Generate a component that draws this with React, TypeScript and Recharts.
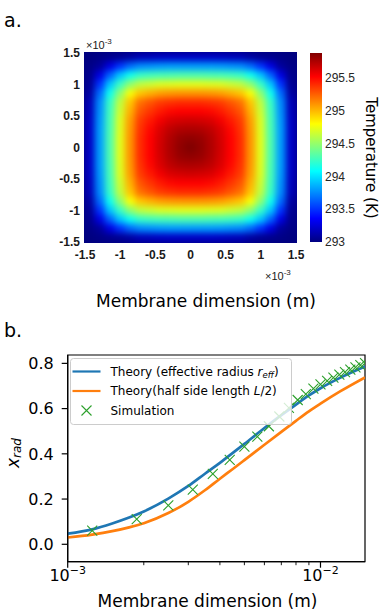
import React from "react";
import {
  ScatterChart,
  ComposedChart,
  Scatter,
  Line,
  XAxis,
  YAxis,
  ReferenceArea,
  Legend,
} from "recharts";

// ---------- panel a: temperature field (x, y in units of 1e-3 m) ----------
const HEAT_X = [
  -1.429, -1.286, -1.143, -1.0, -0.857, -0.714, -0.571, -0.429, -0.286, -0.143, 0,
  0.143, 0.286, 0.429, 0.571, 0.714, 0.857, 1.0, 1.143, 1.286, 1.429,
];
const HEAT_Y = [
  1.429, 1.286, 1.143, 1.0, 0.857, 0.714, 0.571, 0.429, 0.286, 0.143, 0,
  -0.143, -0.286, -0.429, -0.571, -0.714, -0.857, -1.0, -1.143, -1.286, -1.429,
];
// rows top to bottom, columns left to right (K)
const TEMP_K = [
  [293.00,293.02,293.04,293.06,293.10,293.16,293.17,293.19,293.20,293.20,293.20,293.20,293.20,293.19,293.17,293.16,293.10,293.06,293.04,293.02,293.00],
  [293.02,293.08,293.28,293.50,293.66,293.75,293.77,293.79,293.80,293.80,293.80,293.80,293.80,293.79,293.77,293.75,293.66,293.50,293.28,293.08,293.02],
  [293.04,293.28,293.64,293.92,294.12,294.23,294.26,294.28,294.29,294.30,294.30,294.30,294.29,294.28,294.26,294.23,294.12,293.92,293.64,293.28,293.04],
  [293.06,293.50,293.92,294.24,294.48,294.62,294.66,294.70,294.71,294.72,294.72,294.72,294.71,294.70,294.66,294.62,294.48,294.24,293.92,293.50,293.06],
  [293.10,293.66,294.12,294.48,294.78,294.96,295.02,295.07,295.09,295.10,295.10,295.10,295.09,295.07,295.02,294.96,294.78,294.48,294.12,293.66,293.10],
  [293.16,293.75,294.23,294.62,294.96,295.20,295.28,295.35,295.38,295.40,295.40,295.40,295.38,295.35,295.28,295.20,294.96,294.62,294.23,293.75,293.16],
  [293.17,293.77,294.26,294.66,295.02,295.28,295.37,295.45,295.50,295.52,295.52,295.52,295.50,295.45,295.37,295.28,295.02,294.66,294.26,293.77,293.17],
  [293.19,293.79,294.28,294.70,295.07,295.35,295.45,295.55,295.62,295.64,295.65,295.64,295.62,295.55,295.45,295.35,295.07,294.70,294.28,293.79,293.19],
  [293.20,293.80,294.29,294.71,295.09,295.38,295.50,295.62,295.70,295.74,295.75,295.74,295.70,295.62,295.50,295.38,295.09,294.71,294.29,293.80,293.20],
  [293.20,293.80,294.30,294.72,295.10,295.40,295.52,295.64,295.74,295.81,295.83,295.81,295.74,295.64,295.52,295.40,295.10,294.72,294.30,293.80,293.20],
  [293.20,293.80,294.30,294.72,295.10,295.40,295.52,295.65,295.75,295.83,295.88,295.83,295.75,295.65,295.52,295.40,295.10,294.72,294.30,293.80,293.20],
  [293.20,293.80,294.30,294.72,295.10,295.40,295.52,295.64,295.74,295.81,295.83,295.81,295.74,295.64,295.52,295.40,295.10,294.72,294.30,293.80,293.20],
  [293.20,293.80,294.29,294.71,295.09,295.38,295.50,295.62,295.70,295.74,295.75,295.74,295.70,295.62,295.50,295.38,295.09,294.71,294.29,293.80,293.20],
  [293.19,293.79,294.28,294.70,295.07,295.35,295.45,295.55,295.62,295.64,295.65,295.64,295.62,295.55,295.45,295.35,295.07,294.70,294.28,293.79,293.19],
  [293.17,293.77,294.26,294.66,295.02,295.28,295.37,295.45,295.50,295.52,295.52,295.52,295.50,295.45,295.37,295.28,295.02,294.66,294.26,293.77,293.17],
  [293.16,293.75,294.23,294.62,294.96,295.20,295.28,295.35,295.38,295.40,295.40,295.40,295.38,295.35,295.28,295.20,294.96,294.62,294.23,293.75,293.16],
  [293.10,293.66,294.12,294.48,294.78,294.96,295.02,295.07,295.09,295.10,295.10,295.10,295.09,295.07,295.02,294.96,294.78,294.48,294.12,293.66,293.10],
  [293.06,293.50,293.92,294.24,294.48,294.62,294.66,294.70,294.71,294.72,294.72,294.72,294.71,294.70,294.66,294.62,294.48,294.24,293.92,293.50,293.06],
  [293.04,293.28,293.64,293.92,294.12,294.23,294.26,294.28,294.29,294.30,294.30,294.30,294.29,294.28,294.26,294.23,294.12,293.92,293.64,293.28,293.04],
  [293.02,293.08,293.28,293.50,293.66,293.75,293.77,293.79,293.80,293.80,293.80,293.80,293.80,293.79,293.77,293.75,293.66,293.50,293.28,293.08,293.02],
  [293.00,293.02,293.04,293.06,293.10,293.16,293.17,293.19,293.20,293.20,293.20,293.20,293.20,293.19,293.17,293.16,293.10,293.06,293.04,293.02,293.00],
];
const HEAT_TICKS = [-1.5, -1, -0.5, 0, 0.5, 1, 1.5];
const CBAR_TICKS = [293, 293.5, 294, 294.5, 295, 295.5];
const T_MIN = 293;
const T_MAX = 295.88;

// ---------- panel b: radiative fraction vs membrane dimension ----------
const THEORY_L = [
  0.001, 0.00125, 0.0015, 0.00175, 0.002, 0.0025, 0.003, 0.0035, 0.004,
  0.0045, 0.005, 0.006, 0.007, 0.008, 0.009, 0.01, 0.012, 0.015,
];
const X_RAD_REFF = [
  0.047, 0.066, 0.092, 0.118, 0.145, 0.202, 0.258, 0.313, 0.36,
  0.404, 0.444, 0.514, 0.571, 0.618, 0.658, 0.69, 0.737, 0.786,
];
const X_RAD_HALF = [
  0.03, 0.043, 0.058, 0.075, 0.093, 0.138, 0.188, 0.24, 0.29,
  0.333, 0.372, 0.44, 0.497, 0.546, 0.588, 0.622, 0.677, 0.738,
];
const SIM_L = [
  0.00125, 0.001875, 0.0025, 0.003125, 0.00375, 0.004375, 0.005, 0.005625,
  0.00625, 0.006875, 0.0075, 0.008125, 0.00875, 0.009375, 0.01, 0.010625,
  0.01125, 0.011875, 0.0125, 0.013125, 0.01375, 0.014375, 0.015,
];
const SIM_X_RAD = [
  0.06, 0.111, 0.172, 0.242, 0.311, 0.373, 0.432, 0.476,
  0.522, 0.565, 0.603, 0.638, 0.664, 0.688, 0.707, 0.723,
  0.737, 0.75, 0.761, 0.772, 0.782, 0.792, 0.801,
];
const LOG_TICKS = [0.001, 0.002, 0.003, 0.004, 0.005, 0.006, 0.007, 0.008, 0.009, 0.01];
const Y_TICKS = [0, 0.2, 0.4, 0.6, 0.8];

const SANS = "DejaVu Sans, sans-serif";
const ARIAL = "Liberation Sans, Arial, sans-serif";

// MATLAB style jet colour map
const clamp = (v: number) => Math.max(0, Math.min(1, v));
function jet(t: number) {
  const v = clamp((t - T_MIN) / (T_MAX - T_MIN));
  const r = clamp(1.5 - Math.abs(4 * v - 3));
  const g = clamp(1.5 - Math.abs(4 * v - 2));
  const b = clamp(1.5 - Math.abs(4 * v - 1));
  return `rgb(${Math.round(r * 255)},${Math.round(g * 255)},${Math.round(b * 255)})`;
}

const heatCells = TEMP_K.flatMap((row, i) =>
  row.map((t, j) => ({ x: HEAT_X[j], y: HEAT_Y[i], t }))
);

const HEAT_W = 211;
const HEAT_H = 189;
const CELL_W = HEAT_W / HEAT_X.length;
const CELL_H = HEAT_H / HEAT_Y.length;

const HeatCell = (props: any) => {
  const { cx, cy, payload } = props;
  return (
    <rect
      x={cx - CELL_W / 2 - 0.3}
      y={cy - CELL_H / 2 - 0.3}
      width={CELL_W + 0.6}
      height={CELL_H + 0.6}
      fill={jet(payload.t)}
    />
  );
};

// two invisible anchor points so the colour bar chart has data
const cbarAnchors = [
  { x: 0, y: T_MIN },
  { x: 1, y: T_MAX },
];

const reffData = THEORY_L.map((x, i) => ({ x, v: X_RAD_REFF[i] }));
const halfData = THEORY_L.map((x, i) => ({ x, v: X_RAD_HALF[i] }));
const simData = SIM_L.map((x, i) => ({ x, v: SIM_X_RAD[i] }));

const XMark = (props: any) => {
  const { cx, cy } = props;
  const s = 5;
  return (
    <path
      d={`M${cx - s},${cy - s}L${cx + s},${cy + s}M${cx - s},${cy + s}L${cx + s},${cy - s}`}
      stroke="#2ca02c"
      strokeWidth={1.1}
      fill="none"
    />
  );
};

const LogTick = (props: any) => {
  const { x, y, payload } = props;
  const lg = Math.log10(payload.value);
  const major = Math.abs(lg - Math.round(lg)) < 1e-6;
  return (
    <g>
      <line
        x1={x}
        x2={x}
        y1={y}
        y2={y + (major ? 6 : 3.5)}
        stroke="#000"
        strokeWidth={major ? 1.2 : 0.9}
      />
      {major && (
        <text x={x} y={y + 19.5} textAnchor="middle" fontSize={16} fontFamily={SANS} fill="#000">
          10
          <tspan fontSize={11} dy={-7}>
            {"\u2212" + Math.abs(Math.round(lg))}
          </tspan>
        </text>
      )}
    </g>
  );
};

const renderLegend = () => (
  <svg width={222} height={67} style={{ display: "block" }}>
    <rect x={0.5} y={0.5} width={221} height={66} rx={3} fill="rgba(255,255,255,0.8)" stroke="#cccccc" />
    <line x1={2.5} x2={30.5} y1={13.5} y2={13.5} stroke="#1f77b4" strokeWidth={2.2} />
    <line x1={2.5} x2={30.5} y1={33} y2={33} stroke="#ff7f0e" strokeWidth={2.2} />
    <XMark cx={16.5} cy={52.5} />
    <g fontFamily={SANS} fontSize={12} fill="#000">
      <text x={40.5} y={13.5} dominantBaseline="central">
        Theory (effective radius <tspan fontStyle="italic">r</tspan>
        <tspan fontStyle="italic" fontSize={8.5} dy={3}>eff</tspan>
        <tspan dy={-3}>)</tspan>
      </text>
      <text x={40.5} y={33} dominantBaseline="central">
        Theory(half side length <tspan fontStyle="italic">L</tspan>/2)
      </text>
      <text x={40.5} y={52.5} dominantBaseline="central">
        Simulation
      </text>
    </g>
  </svg>
);

export default function App() {
  const jetStops = [0, 1 / 8, 3 / 8, 5 / 8, 7 / 8, 1];
  return (
    <div style={{ position: "absolute", left: 0, top: 0, width: 382, height: 615, background: "#fff" }}>
      <style>{`.heatmap .recharts-scatter { filter: url(#heatBlur); }`}</style>
      <svg width={0} height={0} style={{ position: "absolute" }}>
        <defs>
          <linearGradient id="jetGrad" x1="0" y1="1" x2="0" y2="0">
            {jetStops.map((s) => (
              <stop key={s} offset={s} stopColor={jet(T_MIN + s * (T_MAX - T_MIN))} />
            ))}
          </linearGradient>
          <filter id="heatBlur" x="0" y="0" width="1" height="1" colorInterpolationFilters="sRGB">
            <feFlood floodColor="#00007f" result="bg" />
            <feGaussianBlur in="SourceGraphic" stdDeviation="3.3" result="blur" />
            <feMerge>
              <feMergeNode in="bg" />
              <feMergeNode in="blur" />
            </feMerge>
          </filter>
        </defs>
      </svg>

      {/* panel a: heat map */}
      <div style={{ position: "absolute", left: 0, top: 0 }}>
        <ScatterChart
          className="heatmap"
          width={382}
          height={300}
          margin={{ top: 53, right: 86, bottom: 38, left: 45 }}
        >
          <XAxis
            type="number"
            dataKey="x"
            domain={[-1.5, 1.5]}
            ticks={HEAT_TICKS}
            interval={0}
            height={20}
            axisLine={false}
            tickLine={false}
            tickSize={0}
            tickMargin={8}
            tick={{ fontSize: 12, fontWeight: "bold", fontFamily: ARIAL, fill: "#1a1a1a" }}
          />
          <YAxis
            type="number"
            dataKey="y"
            domain={[-1.5, 1.5]}
            ticks={HEAT_TICKS}
            interval={0}
            width={40}
            axisLine={false}
            tickLine={false}
            tickSize={0}
            tickMargin={5}
            tick={{ fontSize: 12, fontWeight: "bold", fontFamily: ARIAL, fill: "#1a1a1a" }}
          />
          <Scatter data={heatCells} shape={<HeatCell />} isAnimationActive={false} />
        </ScatterChart>
      </div>

      {/* panel a: colour bar */}
      <div style={{ position: "absolute", left: 0, top: 0 }}>
        <ScatterChart width={382} height={300} margin={{ top: 53, right: 10, bottom: 58, left: 310 }}>
          <XAxis type="number" dataKey="x" domain={[0, 1]} hide />
          <YAxis
            orientation="right"
            type="number"
            dataKey="y"
            domain={[T_MIN, T_MAX]}
            ticks={CBAR_TICKS}
            interval={0}
            width={50}
            axisLine={false}
            tickLine={false}
            tickSize={0}
            tickMargin={3}
            tick={{ fontSize: 12, fontFamily: ARIAL, fill: "#262626" }}
          />
          <ReferenceArea
            x1={0}
            x2={1}
            y1={T_MIN}
            y2={T_MAX}
            fill="url(#jetGrad)"
            fillOpacity={1}
            stroke="none"
            ifOverflow="visible"
          />
          <Scatter data={cbarAnchors} shape={() => <g />} isAnimationActive={false} />
        </ScatterChart>
      </div>

      {/* panel b */}
      <div style={{ position: "absolute", left: 0, top: 310 }}>
        <ComposedChart width={382} height={305} margin={{ top: 45, right: 17, bottom: 23.3, left: 17.7 }}>
          <XAxis
            type="number"
            dataKey="x"
            scale="log"
            domain={[0.001, 0.015]}
            allowDataOverflow
            ticks={LOG_TICKS}
            interval={0}
            height={30}
            tickLine={false}
            tickSize={0}
            tickMargin={0}
            axisLine={{ stroke: "#000", strokeWidth: 1.2 }}
            tick={<LogTick />}
          />
          <YAxis
            type="number"
            domain={[-0.077, 0.837]}
            allowDataOverflow
            ticks={Y_TICKS}
            interval={0}
            width={50}
            tickSize={6}
            tickMargin={8}
            tickFormatter={(v: number) => v.toFixed(1)}
            tickLine={{ stroke: "#000", strokeWidth: 1.2 }}
            axisLine={{ stroke: "#000", strokeWidth: 1.2 }}
            tick={{ fontSize: 16, fontFamily: SANS, fill: "#000" }}
          />
          <Line
            data={reffData}
            dataKey="v"
            type="monotone"
            stroke="#1f77b4"
            strokeWidth={2.7}
            dot={false}
            isAnimationActive={false}
          />
          <Line
            data={halfData}
            dataKey="v"
            type="monotone"
            stroke="#ff7f0e"
            strokeWidth={2.7}
            dot={false}
            isAnimationActive={false}
          />
          <Scatter data={simData} dataKey="v" shape={<XMark />} isAnimationActive={false} />
          <ReferenceArea
            x1={0.001}
            x2={0.015}
            y1={-0.077}
            y2={0.837}
            fill="none"
            stroke="#000"
            strokeWidth={1.2}
            ifOverflow="visible"
          />
          <Legend
            layout="horizontal"
            verticalAlign="middle"
            align="center"
            content={renderLegend}
            wrapperStyle={{ left: 69.5, top: 47.5, width: 222, height: 67, right: "auto", bottom: "auto" }}
          />
        </ComposedChart>
      </div>

      {/* annotations */}
      <svg
        width={382}
        height={615}
        style={{ position: "absolute", left: 0, top: 0, pointerEvents: "none" }}
      >
        <text x={4} y={26.5} fontSize={19} fontFamily={SANS} fill="#000">a.</text>
        <text x={4} y={337} fontSize={19} fontFamily={SANS} fill="#000">b.</text>
        <text x={86} y={49} fontSize={11} fontFamily={ARIAL} fill="#1a1a1a">
          ×10<tspan fontSize={8} dy={-5}>-3</tspan>
        </text>
        <text x={265} y={280} fontSize={11} fontFamily={ARIAL} fill="#1a1a1a">
          ×10<tspan fontSize={8} dy={-5}>-3</tspan>
        </text>
        <text x={206} y={306.5} textAnchor="middle" fontSize={17} fontFamily={SANS} fill="#000">
          Membrane dimension (m)
        </text>
        <text
          x={371}
          y={158}
          textAnchor="middle"
          dominantBaseline="central"
          fontSize={15}
          fontFamily={SANS}
          fill="#000"
          transform="rotate(90 371 158)"
        >
          Temperature (K)
        </text>
        <text x={207.5} y={606.5} textAnchor="middle" fontSize={17} fontFamily={SANS} fill="#000">
          Membrane dimension (m)
        </text>
        <text
          x={13}
          y={453}
          textAnchor="middle"
          dominantBaseline="central"
          fontSize={17}
          fontFamily={SANS}
          fill="#000"
          transform="rotate(-90 13 453)"
        >
          <tspan fontStyle="italic">x</tspan>
          <tspan fontStyle="italic" fontSize={12} dy={4}>rad</tspan>
        </text>
      </svg>
    </div>
  );
}
